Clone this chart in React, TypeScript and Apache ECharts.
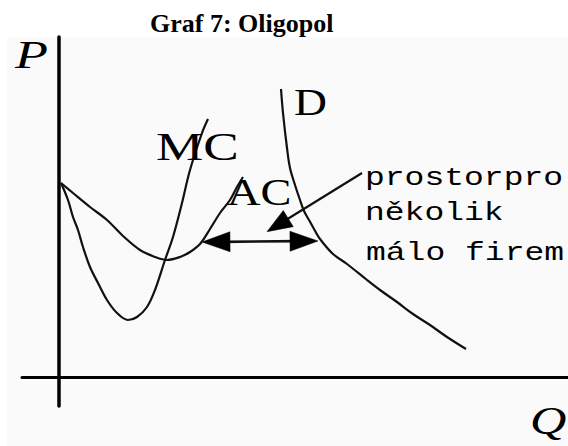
import React, { useEffect, useRef } from "react";
import * as echarts from "echarts";

// Axis value ranges (Q horizontal, P vertical); origin where the axes cross
const qRange = [-37, 509];
const pRange = [-28.5, 340.5];

// Marginal cost curve (Q, P)
const mcCurve = [
  [2, 194.5], [9, 177.5], [14, 160.5], [19, 147.5], [24, 130.5], [31, 110.5],
  [39, 94.5], [48, 77.5], [58, 64.5], [69, 57.5], [78, 60.5], [88, 70.5],
  [96, 87.5], [106, 117.5], [114, 140.5], [123, 174.5], [131, 207.5],
  [143, 244.5], [149, 258.5],
];

// Average cost curve (Q, P)
const acCurve = [
  [2, 194.5], [14, 184.5], [31, 170.5], [48, 157.5], [64, 141.5], [81, 127.5],
  [96, 120.5], [108, 117.5], [121, 120.5], [131, 125.5], [141, 133.5],
  [151, 148.5], [161, 164.5], [171, 177.5], [178, 190.5], [184, 200.5],
];

// Demand curve (Q, P)
const demandCurve = [
  [222, 288.5], [224, 264.5], [228, 229.5], [231, 209.5], [236, 192.5],
  [241, 177.5], [245, 166.5], [250, 157.5], [255, 148.5], [261, 138.5],
  [274, 123.5], [288, 113.5], [308, 97.5], [321, 87.5], [338, 75.5],
  [354, 63.5], [371, 52.5], [388, 40.5], [407, 28.5],
];

// Arrows: [Q from, P from, Q to, P to, head at start, head at end]
const arrows = [
  [143, 135.5, 259, 136.5, 1, 1],
  [303, 204.5, 208, 145.8, 0, 1],
];

const titleText = "Graf 7: Oligopol";
const axisNames = ["P", "Q"];
const curveNames = ["MC", "AC", "D"];
const noteLines = ["prostorpro", "několik", "málo firem"];

const serif = '"Liberation Serif", "Times New Roman", serif';
const mono = '"Liberation Mono", "Courier New", monospace';

export default function App() {
  const ref = useRef<HTMLDivElement>(null);

  useEffect(() => {
    if (!ref.current) return;
    const chart = echarts.init(ref.current, null, { renderer: "svg" });

    const txt = (
      text: string,
      x: number,
      y: number,
      font: string,
      scaleX = 1
    ) => ({
      type: "text",
      x,
      y,
      scaleX,
      z: 100,
      silent: true,
      style: {
        text,
        font,
        fill: "#000",
        align: "left",
        verticalAlign: "middle",
        textAlign: "left",
        textVerticalAlign: "middle",
      },
    });

    const curveStyle = { color: "#111", width: 2.2 };

    const option: any = {
      animation: false,
      grid: { left: 22, right: 0, top: 37, bottom: 40 },
      xAxis: {
        type: "value",
        min: qRange[0],
        max: qRange[1],
        axisLine: { show: true, onZero: true, lineStyle: { color: "#000", width: 3 } },
        axisTick: { show: false },
        axisLabel: { show: false },
        splitLine: { show: false },
      },
      yAxis: {
        type: "value",
        min: pRange[0],
        max: pRange[1],
        axisLine: { show: true, onZero: true, lineStyle: { color: "#000", width: 3.5 } },
        axisTick: { show: false },
        axisLabel: { show: false },
        splitLine: { show: false },
      },
      graphic: [
        {
          type: "rect",
          z: -10,
          silent: true,
          shape: { x: 7, y: 37, width: 561, height: 409 },
          style: { fill: "#fafafa" },
        },
        txt(titleText, 150, 23.2, `bold 26px ${serif}`),
        txt(axisNames[0], 15, 54.5, `italic 40px ${serif}`, 1.35),
        txt(axisNames[1], 530, 420, `italic 40px ${serif}`, 1.26),
        txt(curveNames[0], 156, 146.5, `40px ${serif}`, 1.33),
        txt(curveNames[1], 227, 192.2, `38px ${serif}`, 1.22),
        txt(curveNames[2], 294, 102.2, `38px ${serif}`, 1.2),
        txt(noteLines[0], 365, 178, `26px ${mono}`, 1.27),
        txt(noteLines[1], 365, 213, `26px ${mono}`, 1.27),
        txt(noteLines[2], 366, 253, `26px ${mono}`, 1.27),
      ],
      series: [
        {
          type: "line",
          data: mcCurve,
          smooth: 0.35,
          showSymbol: false,
          lineStyle: curveStyle,
          silent: true,
        },
        {
          type: "line",
          data: acCurve,
          smooth: 0.35,
          showSymbol: false,
          lineStyle: curveStyle,
          silent: true,
        },
        {
          type: "line",
          data: demandCurve,
          smooth: 0.35,
          showSymbol: false,
          lineStyle: curveStyle,
          silent: true,
        },
        {
          type: "custom",
          coordinateSystem: "cartesian2d",
          silent: true,
          encode: { x: [0, 2], y: [1, 3] },
          data: arrows,
          renderItem: (params: any, api: any) => {
            const a = api.coord([api.value(0), api.value(1)]);
            const b = api.coord([api.value(2), api.value(3)]);
            const hasA = api.value(4) > 0;
            const hasB = api.value(5) > 0;
            const dx = b[0] - a[0];
            const dy = b[1] - a[1];
            const len = Math.hypot(dx, dy) || 1;
            const ux = dx / len;
            const uy = dy / len;
            const L = params.dataIndex === 0 ? 28 : 25;
            const W = params.dataIndex === 0 ? 10 : 9.5;
            const head = (tip: number[], dirx: number, diry: number) => {
              const bx = tip[0] - dirx * L;
              const by = tip[1] - diry * L;
              return {
                type: "polygon",
                shape: {
                  points: [
                    [tip[0], tip[1]],
                    [bx - diry * W, by + dirx * W],
                    [bx + diry * W, by - dirx * W],
                  ],
                },
                style: { fill: "#000", stroke: "#000", lineWidth: 0.5 },
              };
            };
            const s = hasA ? [a[0] + ux * L * 0.7, a[1] + uy * L * 0.7] : a;
            const e = hasB ? [b[0] - ux * L * 0.7, b[1] - uy * L * 0.7] : b;
            const children: any[] = [
              {
                type: "line",
                shape: { x1: s[0], y1: s[1], x2: e[0], y2: e[1] },
                style: { stroke: "#111", lineWidth: params.dataIndex === 0 ? 2.6 : 2.2 },
              },
            ];
            if (hasA) children.push(head(a, -ux, -uy));
            if (hasB) children.push(head(b, ux, uy));
            return { type: "group", children };
          },
        },
      ],
    };

    chart.setOption(option);
    return () => chart.dispose();
  }, []);

  return (
    <div
      ref={ref}
      style={{ position: "fixed", left: 0, top: 0, width: 568, height: 446, background: "#fff" }}
    />
  );
}
